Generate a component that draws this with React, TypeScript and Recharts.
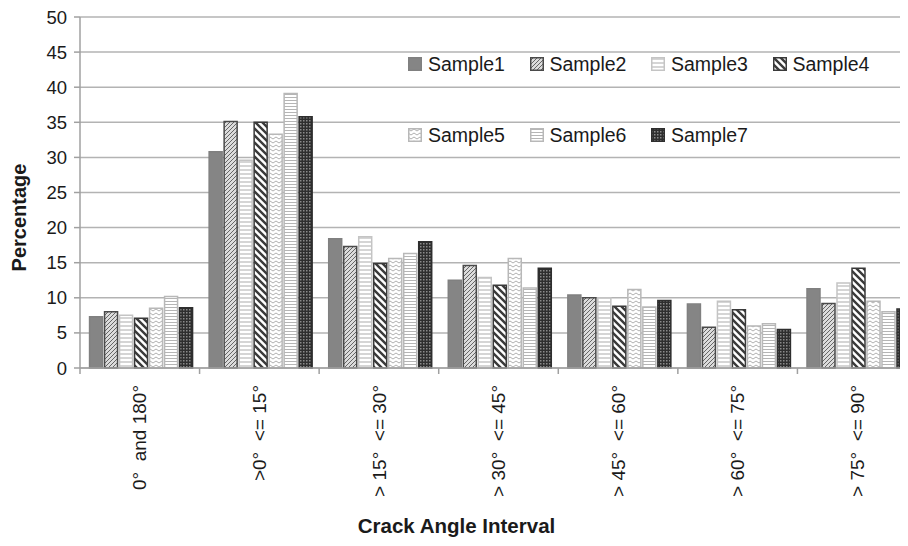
import React from "react";
import { BarChart, Bar, XAxis, YAxis, CartesianGrid } from "recharts";

const categories = [
  "0°  and 180°",
  ">0°  <= 15°",
  "> 15°  <= 30°",
  "> 30°  <= 45°",
  "> 45°  <= 60°",
  "> 60°  <= 75°",
  "> 75°  <= 90°",
];
const sampleNames = ["Sample1", "Sample2", "Sample3", "Sample4", "Sample5", "Sample6", "Sample7"];
const sample1 = [7.3, 30.8, 18.4, 12.5, 10.4, 9.1, 11.3];
const sample2 = [8.0, 35.1, 17.3, 14.6, 10.0, 5.8, 9.2];
const sample3 = [7.5, 29.6, 18.7, 12.9, 10.0, 9.5, 12.1];
const sample4 = [7.1, 35.0, 14.9, 11.8, 8.8, 8.3, 14.2];
const sample5 = [8.5, 33.3, 15.6, 15.6, 11.2, 6.0, 9.5];
const sample6 = [10.2, 39.1, 16.3, 11.4, 8.7, 6.3, 8.0];
const sample7 = [8.6, 35.8, 18.0, 14.2, 9.6, 5.5, 8.4];
const yTicks = [0, 5, 10, 15, 20, 25, 30, 35, 40, 45, 50];

const seriesValues = [sample1, sample2, sample3, sample4, sample5, sample6, sample7];
const data = categories.map((c, i) => {
  const row: any = { name: c };
  sampleNames.forEach((s, k) => (row[s] = seriesValues[k][i]));
  return row;
});

const FONT = "'Liberation Sans', Arial, Helvetica, sans-serif";
const CHART_W = 930;
const CHART_H = 546;
const Y_W = 80;
const M_RIGHT = 13;
const BAND = (CHART_W - Y_W - M_RIGHT) / categories.length;

const fills = ["#858585", "url(#p2)", "url(#p3)", "url(#p4)", "url(#p5)", "url(#p6)", "url(#p7)"];
const strokes = ["#808080", "#4a4a4a", "#c4c4c4", "#3a3a3a", "#b8b8b8", "#b8b8b8", "#2e2e2e"];

const XTick = (props: any) => {
  const { x, y, payload } = props;
  const ty = y + 17;
  return (
    <g>
      <line x1={x - BAND / 2} x2={x - BAND / 2} y1={y} y2={y + 6} stroke="#a0a0a0" strokeWidth={1.5} />
      <text
        x={x}
        y={ty}
        transform={`rotate(-90, ${x}, ${ty})`}
        textAnchor="end"
        dy="0.35em"
        fontSize={19}
        fontFamily={FONT}
        fill="#1a1a1a"
        style={{ whiteSpace: "pre" }}
      >
        {payload.value}
      </text>
    </g>
  );
};

const Swatch = ({ i }: { i: number }) => (
  <svg width={14} height={14} style={{ display: "block" }}>
    <rect x={0.75} y={0.75} width={12.5} height={12.5} fill={fills[i]} stroke={strokes[i]} strokeWidth={1.5} />
  </svg>
);

const legendRows = [sampleNames.slice(0, 4), sampleNames.slice(4)];

export default function App() {
  return (
    <div style={{ position: "relative", margin: -8, width: 908, height: 546, overflow: "hidden", background: "#fff" }}>
      <BarChart
        width={CHART_W}
        height={CHART_H}
        data={data}
        margin={{ top: 17, right: M_RIGHT, left: 0, bottom: 0 }}
        barCategoryGap="8%"
        barGap={2}
      >
        <defs>
          <pattern id="p2" width={4} height={4} patternUnits="userSpaceOnUse">
            <rect width={4} height={4} fill="#dcdcdc" />
            <path d="M-1,1 l2,-2 M0,4 l4,-4 M3,5 l2,-2" stroke="#666" strokeWidth={1} />
          </pattern>
          <pattern id="p3" width={4} height={4} patternUnits="userSpaceOnUse">
            <rect width={4} height={4} fill="#fff" />
            <line x1={0} x2={4} y1={2} y2={2} stroke="#c8c8c8" strokeWidth={1.5} />
          </pattern>
          <pattern id="p4" width={7} height={7} patternUnits="userSpaceOnUse">
            <rect width={7} height={7} fill="#fff" />
            <path d="M-2,5 l4,4 M0,0 l7,7 M5,-2 l4,4" stroke="#3a3a3a" strokeWidth={2.4} />
          </pattern>
          <pattern id="p5" width={6} height={4} patternUnits="userSpaceOnUse">
            <rect width={6} height={4} fill="#fff" />
            <path d="M0,1 l3,2 l3,-2" stroke="#b0b0b0" strokeWidth={1} fill="none" />
          </pattern>
          <pattern id="p6" width={3} height={3} patternUnits="userSpaceOnUse">
            <rect width={3} height={3} fill="#fff" />
            <line x1={0} x2={3} y1={1.5} y2={1.5} stroke="#b5b5b5" strokeWidth={1} />
          </pattern>
          <pattern id="p7" width={3} height={3} patternUnits="userSpaceOnUse">
            <rect width={3} height={3} fill="#2e2e2e" />
            <rect width={1.5} height={1.5} fill="#8a8a8a" />
          </pattern>
        </defs>
        <CartesianGrid vertical={false} stroke="#b3b3b3" strokeWidth={1.5} />
        <XAxis
          dataKey="name"
          height={178}
          interval={0}
          tickLine={false}
          tickSize={0}
          tickMargin={0}
          axisLine={{ stroke: "#a0a0a0", strokeWidth: 1.5 }}
          tick={<XTick />}
          label={{
            content: (p: any) => {
              const vb = p.viewBox;
              return (
                <text x={vb.x + vb.width / 2 - 42} y={vb.y + 165} textAnchor="middle" fontSize={20.5} fontWeight="bold" fontFamily={FONT} fill="#1a1a1a">
                  Crack Angle Interval
                </text>
              );
            },
          }}
        />
        <YAxis
          width={Y_W}
          domain={[0, 50]}
          ticks={yTicks}
          interval={0}
          tickSize={6}
          tickMargin={7}
          tickLine={{ stroke: "#a0a0a0", strokeWidth: 1.5 }}
          axisLine={{ stroke: "#a0a0a0", strokeWidth: 1.5 }}
          tick={{ fontSize: 18.5, fontFamily: FONT, fill: "#1a1a1a" }}
          label={{
            content: (p: any) => {
              const vb = p.viewBox;
              const cx = 19;
              const cy = vb.y + vb.height / 2 + 25;
              return (
                <text x={cx} y={cy} transform={`rotate(-90, ${cx}, ${cy})`} textAnchor="middle" dy="0.35em" fontSize={20} fontWeight="bold" fontFamily={FONT} fill="#1a1a1a">
                  Percentage
                </text>
              );
            },
          }}
        />
        {sampleNames.map((s, i) => (
          <Bar key={s} dataKey={s} fill={fills[i]} stroke={strokes[i]} strokeWidth={1.5} isAnimationActive={false} />
        ))}
      </BarChart>
      {legendRows.map((row, r) => (
        <div
          key={r}
          style={{ position: "absolute", left: 408, top: r === 0 ? 53 : 124, display: "flex", fontFamily: FONT, fontSize: 19.5, color: "#1a1a1a", lineHeight: "22px" }}
        >
          {row.map((name) => {
            const i = sampleNames.indexOf(name);
            return (
              <div key={name} style={{ width: 121.5, display: "flex", alignItems: "center" }}>
                <Swatch i={i} />
                <span style={{ marginLeft: 6 }}>{name}</span>
              </div>
            );
          })}
        </div>
      ))}
    </div>
  );
}
